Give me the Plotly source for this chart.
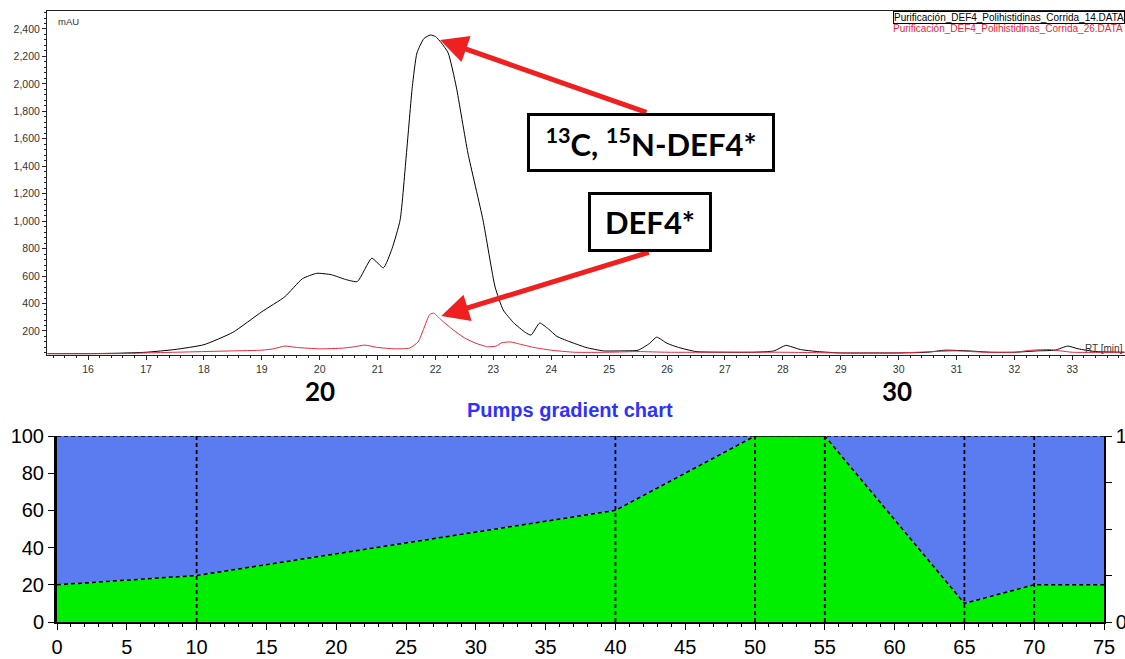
import plotly.graph_objects as go

# ---- Chromatogram data (RT in min, absorbance in mAU) ----
rt_14 = [15.3, 16.0, 16.5, 17.0, 17.5, 18.0, 18.5, 19.0, 19.4, 19.7, 19.95, 20.2, 20.45, 20.65,
         20.9, 21.1, 21.25, 21.39, 21.5, 21.6, 21.68, 21.8, 21.91, 22.0, 22.1, 22.22, 22.36,
         22.56, 22.82, 23.03, 23.17, 23.35, 23.55, 23.65, 23.8, 23.95, 24.1, 24.3, 24.6, 24.9,
         25.2, 25.5, 25.7, 25.82, 26.0, 26.2, 26.5, 27.0, 27.5, 27.85, 28.05, 28.3, 28.6, 29.0,
         29.5, 30.0, 30.5, 30.8, 31.2, 31.6, 32.0, 32.4, 32.7, 32.92, 33.1, 33.4, 33.9]
mau_14 = [35, 35, 38, 45, 65, 100, 190, 340, 450, 580, 620, 610, 575, 560,
          730, 660, 800, 1010, 1500, 1980, 2225, 2330, 2356, 2345, 2300, 2225, 1977,
          1497, 1010, 520, 353, 260, 190, 170, 258, 215, 160, 125, 80, 55,
          55, 60, 110, 155, 110, 80, 50, 45, 45, 55, 95, 65, 50, 40,
          40, 40, 45, 60, 55, 45, 45, 55, 60, 90, 70, 50, 45]

rt_26 = [15.3, 16.5, 17.0, 17.5, 18.0, 18.5, 19.0, 19.2, 19.4, 19.6, 20.0, 20.4, 20.6, 20.78,
         21.0, 21.3, 21.55, 21.7, 21.8, 21.9, 21.97, 22.1, 22.3, 22.5, 22.7, 22.9, 23.05, 23.15,
         23.3, 23.45, 23.7, 24.0, 24.4, 25.0, 25.5, 26.0, 27.0, 28.0, 29.0, 30.0, 30.6, 31.0,
         31.5, 32.0, 32.3, 32.6, 32.8, 33.0, 33.9]
mau_26 = [35, 35, 40, 45, 50, 55, 60, 70, 90, 80, 70, 75, 85, 97,
          80, 70, 75, 120, 220, 320, 330, 280, 210, 150, 110, 85, 90, 115,
          120, 105, 80, 60, 45, 45, 50, 45, 45, 45, 40, 40, 50, 55,
          45, 45, 60, 65, 55, 45, 45]

legend_14 = "Purificación_DEF4_Polihistidinas_Corrida_14.DATA"
legend_26 = "Purificación_DEF4_Polihistidinas_Corrida_26.DATA"

# ---- Pump gradient data (time in min, %B) ----
grad_time = [0, 10, 40, 50, 55, 65, 70, 75]
grad_b = [20, 25, 60, 100, 100, 10, 20, 20]
grad_full = [100, 100, 100, 100, 100, 100, 100, 100]
step_times = [10, 40, 50, 55, 65, 70]

# ---- Annotation anchors (data coords) ----
peak14_tip = (22.08, 2320)
peak14_tail = (25.67, 1788)
peak26_tip = (22.10, 309)
peak26_tail = (25.71, 776)

W, H = 1125, 659
def px(x):
    return x / W
def py(y):
    return 1 - y / H

TICKFONT = dict(family="Liberation Sans, Arial, sans-serif", size=10.5, color="#333333")
BIGFONT = dict(family="Liberation Sans, Arial, sans-serif", size=20, color="black")
DASH = "4px,3px"

fig = go.Figure()

fig.add_trace(go.Scatter(x=rt_14, y=mau_14, mode="lines", line=dict(color="black", width=1, shape="spline", smoothing=0.5),
                         xaxis="x", yaxis="y", showlegend=False))
fig.add_trace(go.Scatter(x=rt_26, y=mau_26, mode="lines", line=dict(color="#e8283c", width=1, shape="spline", smoothing=0.5),
                         xaxis="x", yaxis="y", showlegend=False))

# gradient fills
fig.add_trace(go.Scatter(x=grad_time, y=grad_b, mode="lines", fill="tozeroy", fillcolor="#00ee00",
                         line=dict(color="black", width=1.5, dash=DASH), xaxis="x2", yaxis="y2", showlegend=False))
fig.add_trace(go.Scatter(x=grad_time, y=grad_full, mode="lines", fill="tonexty", fillcolor="#5a7cf0",
                         line=dict(color="black", width=1.5, dash=DASH), xaxis="x2", yaxis="y2", showlegend=False))
# vertical step lines
vx, vy = [], []
for t in step_times:
    vx += [t, t, None]
    vy += [0, 100, None]
fig.add_trace(go.Scatter(x=vx, y=vy, mode="lines", line=dict(color="black", width=1.8, dash=DASH),
                         xaxis="x2", yaxis="y2", showlegend=False))
# dummy trace for right axis
fig.add_trace(go.Scatter(x=[0], y=[0], mode="markers", marker=dict(opacity=0), xaxis="x2", yaxis="y3",
                         showlegend=False, hoverinfo="skip"))

annotations = []
# arrows
for tip, tail in [(peak14_tip, peak14_tail), (peak26_tip, peak26_tail)]:
    annotations.append(dict(x=tip[0], y=tip[1], xref="x", yref="y", ax=tail[0], ay=tail[1], axref="x", ayref="y",
                            text="", showarrow=True, arrowhead=2, arrowsize=1.1, arrowwidth=5, arrowcolor="#ee2020"))
# label boxes
BOXFONT = dict(family="Lato, Carlito, sans-serif", size=31, color="black")
annotations.append(dict(x=px(651), y=py(142.5), xref="paper", yref="paper", text="<b><sup>13</sup>C, <sup>15</sup>N-DEF4*</b>",
                        showarrow=False, font=BOXFONT, bgcolor="white", bordercolor="black", borderwidth=3,
                        width=242, height=53, borderpad=0, xanchor="center", yanchor="middle"))
annotations.append(dict(x=px(650), y=py(222), xref="paper", yref="paper", text="<b>DEF4*</b>",
                        showarrow=False, font=BOXFONT, bgcolor="white", bordercolor="black", borderwidth=3,
                        width=118, height=54, borderpad=0, xanchor="center", yanchor="middle"))
# 20 / 30 labels
for lbl, xx in [("20", 320), ("30", 897)]:
    annotations.append(dict(x=px(xx), y=py(391), xref="paper", yref="paper", text="<b>%s</b>" % lbl, showarrow=False,
                            font=dict(family="Lato, sans-serif", size=26, color="black"), xanchor="center", yanchor="middle"))
# legend texts
annotations.append(dict(x=1.0, y=py(18), xref="paper", yref="paper", text=legend_14, showarrow=False,
                        font=dict(family="Liberation Sans, Arial", size=10, color="black"), xanchor="right", yanchor="middle",
                        bordercolor="black", borderwidth=1, borderpad=0))
annotations.append(dict(x=1.0, y=py(29), xref="paper", yref="paper", text=legend_26, showarrow=False,
                        font=dict(family="Liberation Sans, Arial", size=10, color="#e8283c"), xanchor="right", yanchor="middle"))
annotations.append(dict(x=px(56), y=py(22), xref="paper", yref="paper", text="mAU", showarrow=False,
                        font=dict(family="Liberation Sans, Arial", size=9.5, color="#333333"), xanchor="left", yanchor="middle"))
annotations.append(dict(x=1.0, y=py(348), xref="paper", yref="paper", text="RT [min]", showarrow=False,
                        font=dict(family="Liberation Sans, Arial", size=10, color="#333333"), xanchor="right", yanchor="middle"))
annotations.append(dict(x=px(570), y=py(410), xref="paper", yref="paper", text="<b>Pumps gradient chart</b>", showarrow=False,
                        font=dict(family="Liberation Sans, Arial", size=20, color="#3030ff"), xanchor="center", yanchor="middle"))

fig.update_layout(
    width=W, height=H, margin=dict(l=0, r=0, t=0, b=0, autoexpand=False),
    paper_bgcolor="white", plot_bgcolor="white",
    showlegend=False,
    annotations=annotations,
    xaxis=dict(domain=[px(47), 1.0], range=[15.29, 33.91], anchor="y", showgrid=False, zeroline=False, automargin=False,
               showline=True, linecolor="#222222", linewidth=1, mirror=True,
               ticks="outside", ticklen=4, tickcolor="#222222", dtick=1, tick0=0, tickfont=TICKFONT,
               minor=dict(ticks="outside", ticklen=2, dtick=0.2, tickcolor="#222222")),
    yaxis=dict(domain=[py(355), py(11)], range=[25, 2531], anchor="x", showgrid=False, zeroline=False, automargin=False,
               showline=True, linecolor="#222222", linewidth=1,
               ticks="outside", ticklen=4, tickcolor="#222222", tickformat=",", tickfont=TICKFONT,
               tickvals=[200, 400, 600, 800, 1000, 1200, 1400, 1600, 1800, 2000, 2200, 2400],
               minor=dict(ticks="outside", ticklen=2, dtick=40, tickcolor="#222222")),
    xaxis2=dict(domain=[px(57), px(1104)], range=[0, 75], anchor="y2", showgrid=False, zeroline=False, automargin=False,
                showline=True, linecolor="black", linewidth=1.5,
                ticks="outside", ticklen=6, tickcolor="black", dtick=5, tick0=0, tickfont=BIGFONT,
                minor=dict(ticks="outside", ticklen=3, dtick=1, tickcolor="black")),
    yaxis2=dict(domain=[py(622), py(436)], range=[0, 100], anchor="x2", showgrid=False, zeroline=False, automargin=False,
                showline=True, linecolor="black", linewidth=3,
                ticks="outside", ticklen=6, tickcolor="black", dtick=20, tick0=0, tickfont=BIGFONT),
    yaxis3=dict(overlaying="y2", side="right", anchor="x2", range=[0, 100], showgrid=False, zeroline=False, automargin=False,
                showline=True, linecolor="black", linewidth=1.5,
                ticks="outside", ticklen=6, tickcolor="black",
                tickvals=[0, 100], ticktext=["0", "100"], tickfont=BIGFONT,
                minor=dict(ticks="outside", ticklen=6, dtick=25, tickcolor="black")),
)

fig.write_html("out.html")
